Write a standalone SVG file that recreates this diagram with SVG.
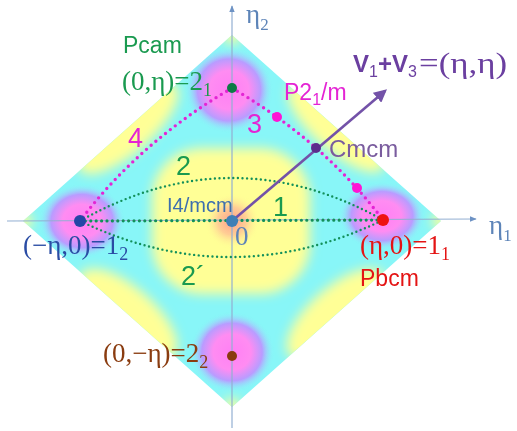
<svg xmlns="http://www.w3.org/2000/svg" width="517" height="431" viewBox="0 0 517 431">
<style>
.sans{font-family:"Liberation Sans",Arial,sans-serif}
.serif{font-family:"Liberation Serif","Times New Roman",serif}
.mag{fill:none;stroke:#e424d4;stroke-width:3.4;stroke-dasharray:0 6.2;stroke-linecap:round}
.grn{fill:none;stroke:#13905a;stroke-width:2.4;stroke-dasharray:0 4.6;stroke-linecap:round}
.grn1{fill:none;stroke:#13905a;stroke-width:3.2;stroke-dasharray:0 5.4;stroke-linecap:round}
.axis{stroke:#93afd2;stroke-width:1.2;fill:none}
.ylw{fill:#ffff96}
</style>
<defs>
<clipPath id="dia"><polygon points="232,35 441,221 232,407 23,221"/></clipPath>
<filter id="blur" x="-20%" y="-20%" width="140%" height="140%"><feGaussianBlur stdDeviation="6"/></filter>
<radialGradient id="blob">
<stop offset="0" stop-color="#ff80f4"/>
<stop offset="0.45" stop-color="#ff8cf2"/>
<stop offset="0.72" stop-color="#b99cff"/>
<stop offset="1" stop-color="#8cf6f8" stop-opacity="0"/>
</radialGradient>
<radialGradient id="core">
<stop offset="0" stop-color="#ff9a8a"/>
<stop offset="0.5" stop-color="#ffb894" stop-opacity="0.7"/>
<stop offset="1" stop-color="#ffff96" stop-opacity="0"/>
</radialGradient>
<marker id="arr" viewBox="0 0 10 10" refX="8" refY="5" markerWidth="5" markerHeight="5" orient="auto" markerUnits="strokeWidth">
<path d="M0,0 L10,5 L0,10 z" fill="#7352a8"/>
</marker>
<marker id="axarr" viewBox="0 0 10 10" refX="9" refY="5" markerWidth="7" markerHeight="7" orient="auto" markerUnits="userSpaceOnUse">
<path d="M0,1 L10,5 L0,9 z" fill="#6d92c4"/>
</marker>
</defs>

<g id="map" clip-path="url(#dia)">
<rect x="0" y="0" width="517" height="431" fill="#88f6f8"/>
<g filter="url(#blur)">
<rect class="ylw" x="152" y="148" width="158" height="146" rx="50"/>
<ellipse class="ylw" cx="128" cy="128" rx="64" ry="24" transform="rotate(-41.7 128 128)"/>
<ellipse class="ylw" cx="336" cy="128" rx="62" ry="22" transform="rotate(41.7 336 128)"/>
<ellipse class="ylw" cx="336" cy="314" rx="62" ry="26" transform="rotate(-41.7 336 314)"/>
<ellipse class="ylw" cx="128" cy="314" rx="62" ry="26" transform="rotate(41.7 128 314)"/>
<circle class="ylw" cx="232" cy="35" r="9"/>
<circle class="ylw" cx="441" cy="221" r="9"/>
<circle class="ylw" cx="232" cy="407" r="9"/>
<circle class="ylw" cx="23" cy="221" r="9"/>
</g>
<circle cx="232" cy="221" r="28" fill="url(#core)"/>
<ellipse cx="229" cy="90" rx="44" ry="43" fill="url(#blob)"/>
<ellipse cx="382" cy="216" rx="43" ry="34" fill="url(#blob)"/>
<ellipse cx="82" cy="221" rx="43" ry="37" fill="url(#blob)"/>
<ellipse cx="232" cy="352" rx="42" ry="40" fill="url(#blob)"/>
</g>

<g id="axes">
<line class="axis" x1="232" y1="428" x2="232" y2="6" marker-end="url(#axarr)"/>
<line class="axis" x1="7" y1="221" x2="476" y2="219" marker-end="url(#axarr)"/>
<text class="serif" x="246" y="23" font-size="27" fill="#5d84b8">η<tspan font-size="17" dy="7">2</tspan></text>
<text class="serif" x="489" y="234" font-size="27" fill="#5d84b8">η<tspan font-size="17" dy="7">1</tspan></text>
</g>

<g id="connectors">
<path class="mag" d="M232,88 Q324.5,142 383,220"/>
<path class="mag" d="M232,88 Q139.5,142 80,221"/>
<path class="grn1" d="M80,221 L383,220"/>
<path class="grn" d="M80,221 Q231.5,135.5 383,220"/>
<path class="grn" d="M80,221 Q231.5,293.5 383,220"/>
<line x1="232" y1="221" x2="385" y2="91" stroke="#7352a8" stroke-width="2.6" marker-end="url(#arr)"/>
</g>

<g id="node-center">
<circle cx="232" cy="221" r="6" fill="#3f7fb6"/>
<text class="sans" x="167" y="212" font-size="20" fill="#3d6fae">I4/mcm</text>
<text class="serif" x="235" y="245" font-size="27" fill="#5d84b8">0</text>
</g>

<g id="node-2-1">
<circle cx="232" cy="88" r="5" fill="#0e7a46"/>
<text class="sans" x="123" y="53" font-size="23" fill="#1a9a50">Pcam</text>
<text class="serif" x="122" y="90" font-size="27" fill="#1a9a50">(0,η)=2<tspan font-size="18" dy="6">1</tspan></text>
</g>

<g id="node-1-1">
<circle cx="383" cy="220" r="6" fill="#ee1212"/>
<text class="serif" x="360" y="254" font-size="27" fill="#e41414">(η,0)=1<tspan font-size="18" dy="6">1</tspan></text>
<text class="sans" x="360" y="286" font-size="23" fill="#e41414">Pbcm</text>
</g>

<g id="node-1-2">
<circle cx="80" cy="221" r="6" fill="#2446a6"/>
<text class="serif" x="23" y="254" font-size="27" fill="#2a4ca4">(−η,0)=1<tspan font-size="18" dy="6">2</tspan></text>
</g>

<g id="node-2-2">
<circle cx="232" cy="356" r="5" fill="#8a3a10"/>
<text class="serif" x="103" y="362" font-size="27" fill="#8a3c10">(0,−η)=2<tspan font-size="18" dy="6">2</tspan></text>
</g>

<g id="node-cmcm">
<circle cx="316" cy="148" r="5" fill="#5c2c8c"/>
<text class="sans" x="329" y="157" font-size="24" fill="#7a5c9e">Cmcm</text>
</g>

<g id="node-p21m">
<circle cx="277" cy="117" r="5" fill="#ff14d4"/>
<circle cx="357" cy="188" r="5" fill="#ff14d4"/>
<text class="sans" x="284" y="100" font-size="23" fill="#e424d4">P2<tspan font-size="16" dy="5">1</tspan><tspan dy="-5">/m</tspan></text>
</g>

<g id="labels">
<text class="sans" x="128" y="147" font-size="27" fill="#e424d4">4</text>
<text class="sans" x="247" y="133" font-size="27" fill="#e424d4">3</text>
<text class="sans" x="176" y="175" font-size="27" fill="#1a9a50">2</text>
<text class="sans" x="273" y="216" font-size="27" fill="#1a9a50">1</text>
<text class="sans" x="181" y="285" font-size="27" fill="#1a9a50">2´</text>
<text x="353" y="72" fill="#6b3fa0"><tspan class="sans" font-size="24" font-weight="bold">V</tspan><tspan class="sans" font-size="16" dy="5">1</tspan><tspan class="sans" font-size="24" font-weight="bold" dy="-5">+V</tspan><tspan class="sans" font-size="16" dy="5">3</tspan></text>
<text class="serif" x="419" y="73" font-size="29" fill="#6b3fa0" textLength="88" lengthAdjust="spacingAndGlyphs">=(η,η)</text>
</g>
</svg>
